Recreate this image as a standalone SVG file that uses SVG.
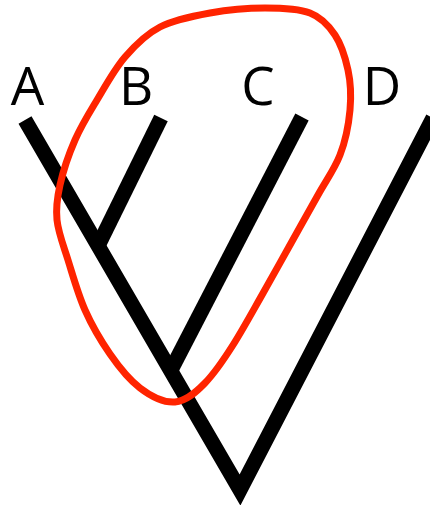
<svg xmlns="http://www.w3.org/2000/svg" width="430" height="505" viewBox="0 0 430 505">
<style>
.lbl{font-family:"Open Sans","Liberation Sans",sans-serif;font-size:53px;fill:#000;text-anchor:middle}
.br{fill:none;stroke:#000;stroke-width:15;stroke-linecap:butt;stroke-linejoin:miter;stroke-miterlimit:10}
.clade{fill:none;stroke:#ff2400;stroke-width:7}
</style>
<rect width="430" height="505" fill="#fff"/>
<g id="connectors">
<polyline class="br" points="25,120 240,490 433,118"/>
<line class="br" x1="98" y1="246" x2="161" y2="118"/>
<line class="br" x1="171" y1="370" x2="302" y2="117"/>
</g>
<g id="node-A"><text class="lbl" x="27.5" y="105">A</text></g>
<g id="node-B"><text class="lbl" x="136" y="105">B</text></g>
<g id="node-C"><text class="lbl" x="258" y="105">C</text></g>
<g id="node-D"><text class="lbl" x="382" y="105">D</text></g>
<g id="clade-BC">
<path class="clade" d="M175,402 C164.2,402.8 150.8,396.3 140,388 C129.2,379.7 119.2,367.3 110,354 C100.8,340.7 92,325.8 85,310 C78,294.2 72.7,275 68,260 C63.3,245 58.3,232.5 57,220 C55.7,207.5 57,198.3 60,185 C63,171.7 68.8,154.2 75,140 C81.2,125.8 88.7,113.8 97,100 C105.3,86.2 114.5,69.2 125,57 C135.5,44.8 145.8,34.3 160,27 C174.2,19.7 192.5,16.2 210,13 C227.5,9.8 248.3,8 265,8 C281.7,8 298.3,8.5 310,13 C321.7,17.5 328.7,25.5 335,35 C341.3,44.5 345.3,57.5 348,70 C350.7,82.5 351.3,95.8 350,110 C348.7,124.2 345.5,140.8 340,155 C334.5,169.2 326.3,180 318,195 C309.7,210 299.3,228.3 290,245 C280.7,261.7 271.5,278.3 262,295 C252.5,311.7 242.5,330 233,345 C223.5,360 214.7,373 205,383 C195.3,393 185.8,401.2 175,402 Z"/>
</g>
</svg>
